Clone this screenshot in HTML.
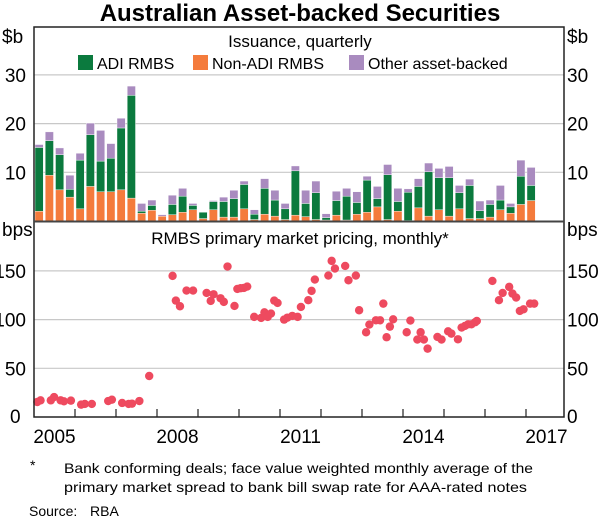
<!DOCTYPE html>
<html><head><meta charset="utf-8"><style>
html,body{margin:0;padding:0;background:#fff;}
svg{display:block;font-family:"Liberation Sans",Arial,sans-serif;}
</style></head><body>
<svg id="chart" width="600" height="517" viewBox="0 0 600 517" xmlns="http://www.w3.org/2000/svg">
<text x="300" y="21" text-anchor="middle" font-size="24" font-weight="bold" fill="#000">Australian Asset-backed Securities</text>
<g id="grid"></g><g id="bars"></g><g id="dots"></g><g id="axes"></g>
<text x="300" y="47" text-anchor="middle" font-size="17">Issuance, quarterly</text>
<g>
<rect x="78" y="55" width="15" height="15" fill="#0b7a3e"/>
<text x="97" y="69" font-size="16">ADI RMBS</text>
<rect x="193" y="55" width="15" height="15" fill="#f47b3c"/>
<text x="212" y="69" font-size="16">Non-ADI RMBS</text>
<rect x="349" y="55" width="15" height="15" fill="#a98bbf"/>
<text x="368" y="69" font-size="16">Other asset-backed</text>
</g>
<text x="300" y="244" text-anchor="middle" font-size="17">RMBS primary market pricing, monthly*</text>
<text x="64" y="473" font-size="14" textLength="469" lengthAdjust="spacingAndGlyphs">Bank conforming deals; face value weighted monthly average of the</text>
<text x="64" y="492" font-size="14" textLength="463" lengthAdjust="spacingAndGlyphs">primary market spread to bank bill swap rate for AAA-rated notes</text>
<text x="30" y="470" font-size="14">*</text>
<text x="29" y="516" font-size="14">Source:</text>
<text x="90" y="516" font-size="14">RBA</text>
</svg>
<script>
const adi = [13.1,7.1,7.2,1.6,10.0,10.6,6.3,6.9,12.7,21.1,0.4,1.0,0,2.1,3.3,0.9,1.3,1.7,3.2,3.8,5.0,1.1,5.3,3.3,2.2,9.1,2.7,5.5,0.5,3.0,4.9,2.4,6.6,1.7,9.2,2.0,5.8,4.4,9.1,6.6,7.9,3.3,6.8,1.6,2.6,2.0,1.3,5.8,3.1];
const nonAdi = [2.0,9.4,6.4,4.9,2.5,7.1,6.0,6.0,6.4,4.7,1.6,2.2,1.0,1.3,1.8,2.3,0.5,2.3,0.8,0.8,2.5,0.3,1.4,1.0,0.3,1.2,0.9,0.3,0.2,1.2,0.2,1.4,1.8,2.9,0.3,2.0,0.1,2.7,1.0,2.3,1.0,2.5,0.5,0.5,0.8,2.3,1.6,3.4,4.2];
const other = [0.6,1.8,1.4,2.9,1.4,2.4,6.3,3.0,2.0,1.9,1.6,1.1,0.3,1.9,1.6,0.4,0,0.2,0.9,1.7,0.7,0.9,2.0,2.0,1.1,1.0,2.7,2.4,0.8,1.9,1.6,2.2,0.8,2.5,2.1,2.7,0.7,1.6,1.8,1.9,2.3,1.5,1.3,2.0,0.9,3.0,0.7,3.3,3.7];
const firstQuarterYear = 2005;
const dotDates = [2005.08,2005.16,2005.41,2005.49,2005.65,2005.73,2005.9,2006.15,2006.24,2006.41,2006.81,2006.9,2007.15,2007.31,2007.39,2007.57,2007.81,2008.38,2008.46,2008.56,2008.72,2008.88,2009.21,2009.31,2009.38,2009.55,2009.63,2009.72,2009.89,2009.96,2010.04,2010.12,2010.2,2010.37,2010.54,2010.62,2010.7,2010.78,2010.86,2010.94,2011.1,2011.18,2011.3,2011.43,2011.51,2011.69,2011.77,2011.85,2012.18,2012.26,2012.34,2012.59,2012.67,2012.85,2012.93,2013.1,2013.18,2013.34,2013.44,2013.52,2013.6,2013.68,2013.76,2014.09,2014.18,2014.35,2014.43,2014.51,2014.6,2014.84,2014.94,2015.1,2015.18,2015.34,2015.43,2015.51,2015.59,2015.67,2015.76,2015.8,2016.18,2016.34,2016.43,2016.59,2016.67,2016.76,2016.85,2016.94,2017.1,2017.2];
const dotValues = [15.4,17.1,17.1,20.5,17.1,16.1,16.8,12.7,13.4,13.4,16.4,17.8,14.4,13.4,13.7,16.4,42.1,144.9,119.5,113.7,129.8,129.8,127.4,119.2,126,121.9,118.2,154.5,114,131.5,132.2,132.5,133.9,102.8,101.7,107.5,102.8,106.2,119.5,117.1,100,102,103.8,102.8,113,119.9,129.5,141.1,145.2,160.3,152.4,155.1,140.4,145.2,109.6,87,94.9,99.3,99.3,116.4,81.9,92.8,100.3,87,99,79.5,87,79.5,70.2,82.2,79.5,88,85.6,79.8,91.8,93.5,95.2,95.2,97.3,98.6,139.7,119.9,127.4,133.6,126.7,122.6,108.9,110.6,116.4,116.4];
const topTicks = [10,20,30];
const bottomTicks = [50,100,150];
const yearLabels = [2005,2008,2011,2014,2017];

const NS='http://www.w3.org/2000/svg';
const L=34, R=564, T1=27, B1=221, T2=222, B2=417;
const X0=2005, PX=41;
const xYear = t => L + (t - X0) * PX;
const yTop = v => B1 - v * 4.87;
const yBot = v => B2 - v * 0.974;
function mk(parent, tag, attrs){const e=document.createElementNS(NS,tag);for(const k in attrs)e.setAttribute(k,attrs[k]);document.getElementById(parent).appendChild(e);return e;}

topTicks.forEach(v=>{
  const g=mk('grid','line',{x1:L,x2:R,y1:yTop(v),y2:yTop(v),stroke:'#c8c8c8','stroke-width':1.2});
  
  
  const a=mk('axes','text',{x:26,y:yTop(v)+7,'text-anchor':'end','font-size':19});a.textContent=v;
  
  
  const b=mk('axes','text',{x:567,y:yTop(v)+7,'font-size':19});b.textContent=v;
  
  
});
bottomTicks.forEach(v=>{
  const g=mk('grid','line',{x1:L,x2:R,y1:yBot(v),y2:yBot(v),stroke:'#c8c8c8','stroke-width':1.2});
  
  
  const a=mk('axes','text',{x:26,y:yBot(v)+7,'text-anchor':'end','font-size':19});a.textContent=v;
  
  
  const b=mk('axes','text',{x:567,y:yBot(v)+7,'font-size':19});b.textContent=v;
  
  
});
[['$b',2,43],['$b',567,43],['bps',2,236],['bps',567,236],['0',10,423],['0',567,423]].forEach((d,i)=>{
  const t=mk('axes','text',{x:d[1],y:d[2],'font-size':19});t.textContent=d[0];
  
  
});

const qw=PX/4;
adi.forEach((a,i)=>{
  const x=xYear(firstQuarterYear+i/4)+1, w=qw-2;
  const n=nonAdi[i], o=other[i];
  const segs=[[0,n,'#f47b3c','non-adi'],[n,n+a,'#0b7a3e','adi'],[n+a,n+a+o,'#a98bbf','other']];
  segs.forEach(s=>{
    if(s[1]-s[0]<=0)return;
    const r=mk('bars','rect',{x:x,y:yTop(s[1]),width:w,height:yTop(s[0])-yTop(s[1]),fill:s[2],stroke:'#fff','stroke-width':0.4});
    
    
  });
});

dotDates.forEach((t,i)=>{
  const c=mk('dots','circle',{cx:xYear(t),cy:yBot(dotValues[i]),r:4.2,fill:'#ee4a5f'});
  
  
});

const fr=mk('axes','rect',{x:L,y:T1,width:R-L,height:B2-T1,fill:'none',stroke:'#222','stroke-width':1.5});


const sep=mk('axes','line',{x1:L,x2:R,y1:221.5,y2:221.5,stroke:'#444','stroke-width':2});


for(let y=2006;y<=2017;y++){
  const tk=mk('axes','line',{x1:xYear(y),x2:xYear(y),y1:B2,y2:B2-8,stroke:'#222','stroke-width':1.2});
  
  
}
yearLabels.forEach(y=>{
  const t=mk('axes','text',{x:xYear(y+0.5),y:443,'text-anchor':'middle','font-size':19});t.textContent=y;
  
  
});
</script>
</body></html>
